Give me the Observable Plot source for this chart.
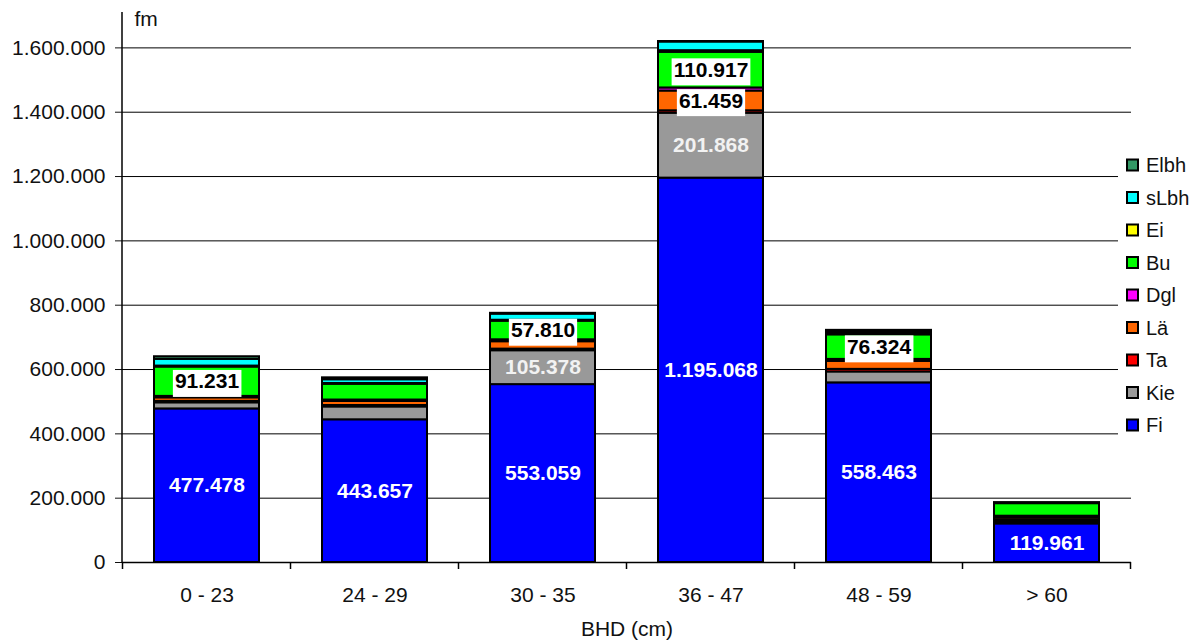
<!DOCTYPE html>
<html>
<head>
<meta charset="utf-8">
<script src="https://cdn.jsdelivr.net/npm/d3@7"></script>
<script src="https://cdn.jsdelivr.net/npm/@observablehq/plot@0.6"></script>
<style>
  html, body { margin: 0; padding: 0; background: #fff; }
  #chart { width: 1200px; height: 644px; }
</style>
</head>
<body>
<div id="chart"></div>
<script>
// Diameter classes (BHD in cm)
const categories = ["0 - 23", "24 - 29", "30 - 35", "36 - 47", "48 - 59", "> 60"];

// Tree species, stacked from bottom to top
const species = ["Fi", "Kie", "Ta", "Lä", "Dgl", "Bu", "Ei", "sLbh", "Elbh"];
const speciesColors = ["#0000ff", "#999999", "#ff0000", "#ff6600", "#ff00ff", "#00ff00", "#ffff00", "#00ffff", "#339966"];

// Volume (fm) per species and diameter class
const fi   = [477478, 443657, 553059, 1195068, 558463, 119961];
const kie  = [19000, 40000, 105378, 201868, 34000, 6000];
const ta   = [4500, 4500, 5000, 7500, 8000, 5000];
const lae  = [11000, 12500, 23000, 61459, 25000, 7000];
const dgl  = [4500, 4500, 6000, 9500, 6000, 6000];
const bu   = [91231, 49000, 57810, 110917, 76324, 39000];
const ei   = [3000, 2500, 3000, 5000, 4000, 1000];
const slbh = [21000, 11500, 19000, 27000, 4000, 1000];
const elbh = [8000, 6000, 2500, 1500, 6000, 1000];

const yTicks = [0, 200000, 400000, 600000, 800000, 1000000, 1200000, 1400000, 1600000];

// Which segments carry a value label
const labelFi = categories;
const labelKie = ["30 - 35", "36 - 47"];
const labelBoxed = [["0 - 23", "Bu"], ["30 - 35", "Bu"], ["36 - 47", "Bu"], ["48 - 59", "Bu"], ["36 - 47", "Lä"]];

const seriesValues = [fi, kie, ta, lae, dgl, bu, ei, slbh, elbh];
const rows = categories.flatMap((cat, i) =>
  species.map((sp, j) => ({cat, species: sp, value: seriesValues[j][i]}))
);

const de = d3.formatLocale({decimal: ",", thousands: ".", grouping: [3], currency: ["", " €"]});
const fmt = de.format(",d");

const isBoxed = d => labelBoxed.some(([c, s]) => c === d.cat && s === d.species);
const boxedTexts = new Set(rows.filter(isBoxed).map(d => fmt(d.value)));

const font = '"Liberation Sans", Arial, Helvetica, sans-serif';
const stackOpts = {x: "cat", y: "value", z: "species", order: species};

const plot = Plot.plot({
  width: 1200,
  height: 644,
  marginLeft: 122,
  marginRight: 69,
  marginTop: 12,
  marginBottom: 82,
  style: {fontFamily: font, fontSize: "21px", color: "#111", background: "white"},
  x: {type: "band", domain: categories, paddingInner: 0.375, paddingOuter: 0.1875, label: null},
  y: {domain: [0, 1710000], label: null},
  color: {domain: species, range: speciesColors},
  marks: [
    Plot.ruleY(yTicks.slice(1), {stroke: "#000", strokeWidth: 1}),
    Plot.barY(rows, {...stackOpts, fill: "species", stroke: "#000", strokeWidth: 2}),
    Plot.text(rows, Plot.stackY({
      ...stackOpts,
      text: d => d.species === "Fi" && labelFi.includes(d.cat) ? fmt(d.value) : null,
      fill: "white", fontWeight: "bold", fontSize: 21, fontFamily: font
    })),
    Plot.text(rows, Plot.stackY({
      ...stackOpts,
      text: d => d.species === "Kie" && labelKie.includes(d.cat) ? fmt(d.value) : null,
      fill: "#f2f2f2", fontWeight: "bold", fontSize: 21, fontFamily: font
    })),
    Plot.text(rows, Plot.stackY({
      ...stackOpts,
      text: d => isBoxed(d) ? fmt(d.value) : null,
      fill: "#000", fontWeight: "bold", fontSize: 21, fontFamily: font
    })),
    Plot.ruleY([0], {stroke: "#000", strokeWidth: 1.5}),
    Plot.axisY({ticks: yTicks, tickFormat: fmt, tickSize: 7, tickPadding: 10, fontSize: 21, label: null}),
    Plot.axisX({tickSize: 0, tickPadding: 25, fontSize: 21, label: null}),
    Plot.text(["fm"], {text: d => d, frameAnchor: "top-left", lineAnchor: "middle", textAnchor: "start", dx: 12, dy: 7, fontSize: 21, fill: "#111"}),
    Plot.text(["BHD (cm)"], {text: d => d, frameAnchor: "bottom", lineAnchor: "middle", dy: 67, fontSize: 21, fill: "#111"})
  ]
});

document.getElementById("chart").append(plot);

const svgNS = "http://www.w3.org/2000/svg";
const svg = d3.select(plot);

// White boxes behind the boxed value labels
svg.selectAll("text").each(function () {
  if (!boxedTexts.has(this.textContent)) return;
  const bb = this.getBBox();
  const r = document.createElementNS(svgNS, "rect");
  r.setAttribute("x", bb.x - 2);
  r.setAttribute("y", bb.y + 0.5);
  r.setAttribute("width", bb.width + 4);
  r.setAttribute("height", bb.height + 4);
  r.setAttribute("fill", "white");
  const t = this.getAttribute("transform");
  if (t) r.setAttribute("transform", t);
  this.parentNode.insertBefore(r, this);
});

// Axis lines and category boundary ticks
const xs = plot.scale("x");
const ys = plot.scale("y");
const xLeft = xs.range[0];
const gap = (xs.step - xs.bandwidth) / 2;
const bounds = categories.map(c => xs.apply(c) - gap).concat([xs.apply(categories[categories.length - 1]) + xs.bandwidth + gap]);
const y0 = ys.apply(0);
const yTop = ys.apply(ys.domain[1]);

const axes = svg.append("g").attr("stroke", "#000");
axes.append("line")
  .attr("x1", xLeft).attr("x2", xLeft)
  .attr("y1", yTop).attr("y2", y0 + 0.5)
  .attr("stroke-width", 1.5);
axes.selectAll("line.b").data(bounds).join("line")
  .attr("class", "b")
  .attr("x1", d => d).attr("x2", d => d)
  .attr("y1", y0).attr("y2", y0 + 7)
  .attr("stroke-width", 1.5);

// Legend (top entry is the top of the stack)
const cs = plot.scale("color");
const legendItems = cs.domain.map((d, i) => ({name: d, color: cs.range[i]})).reverse();
const lg = svg.append("g")
  .attr("font-family", font)
  .attr("font-size", 20)
  .attr("text-anchor", "start");
lg.append("rect").attr("x", 1118).attr("y", 148).attr("width", 82).attr("height", 294).attr("fill", "white");
const item = lg.selectAll("g.item").data(legendItems).join("g")
  .attr("class", "item")
  .attr("transform", (d, i) => `translate(1126,${165 + i * 32.5})`);
item.append("rect")
  .attr("x", 1).attr("y", -5.5).attr("width", 11).attr("height", 11)
  .attr("fill", d => d.color).attr("stroke", "#000").attr("stroke-width", 2);
item.append("text")
  .attr("x", 20).attr("y", 0).attr("dy", "0.35em")
  .attr("text-anchor", "start")
  .attr("fill", "#111")
  .text(d => d.name);
</script>
</body>
</html>
